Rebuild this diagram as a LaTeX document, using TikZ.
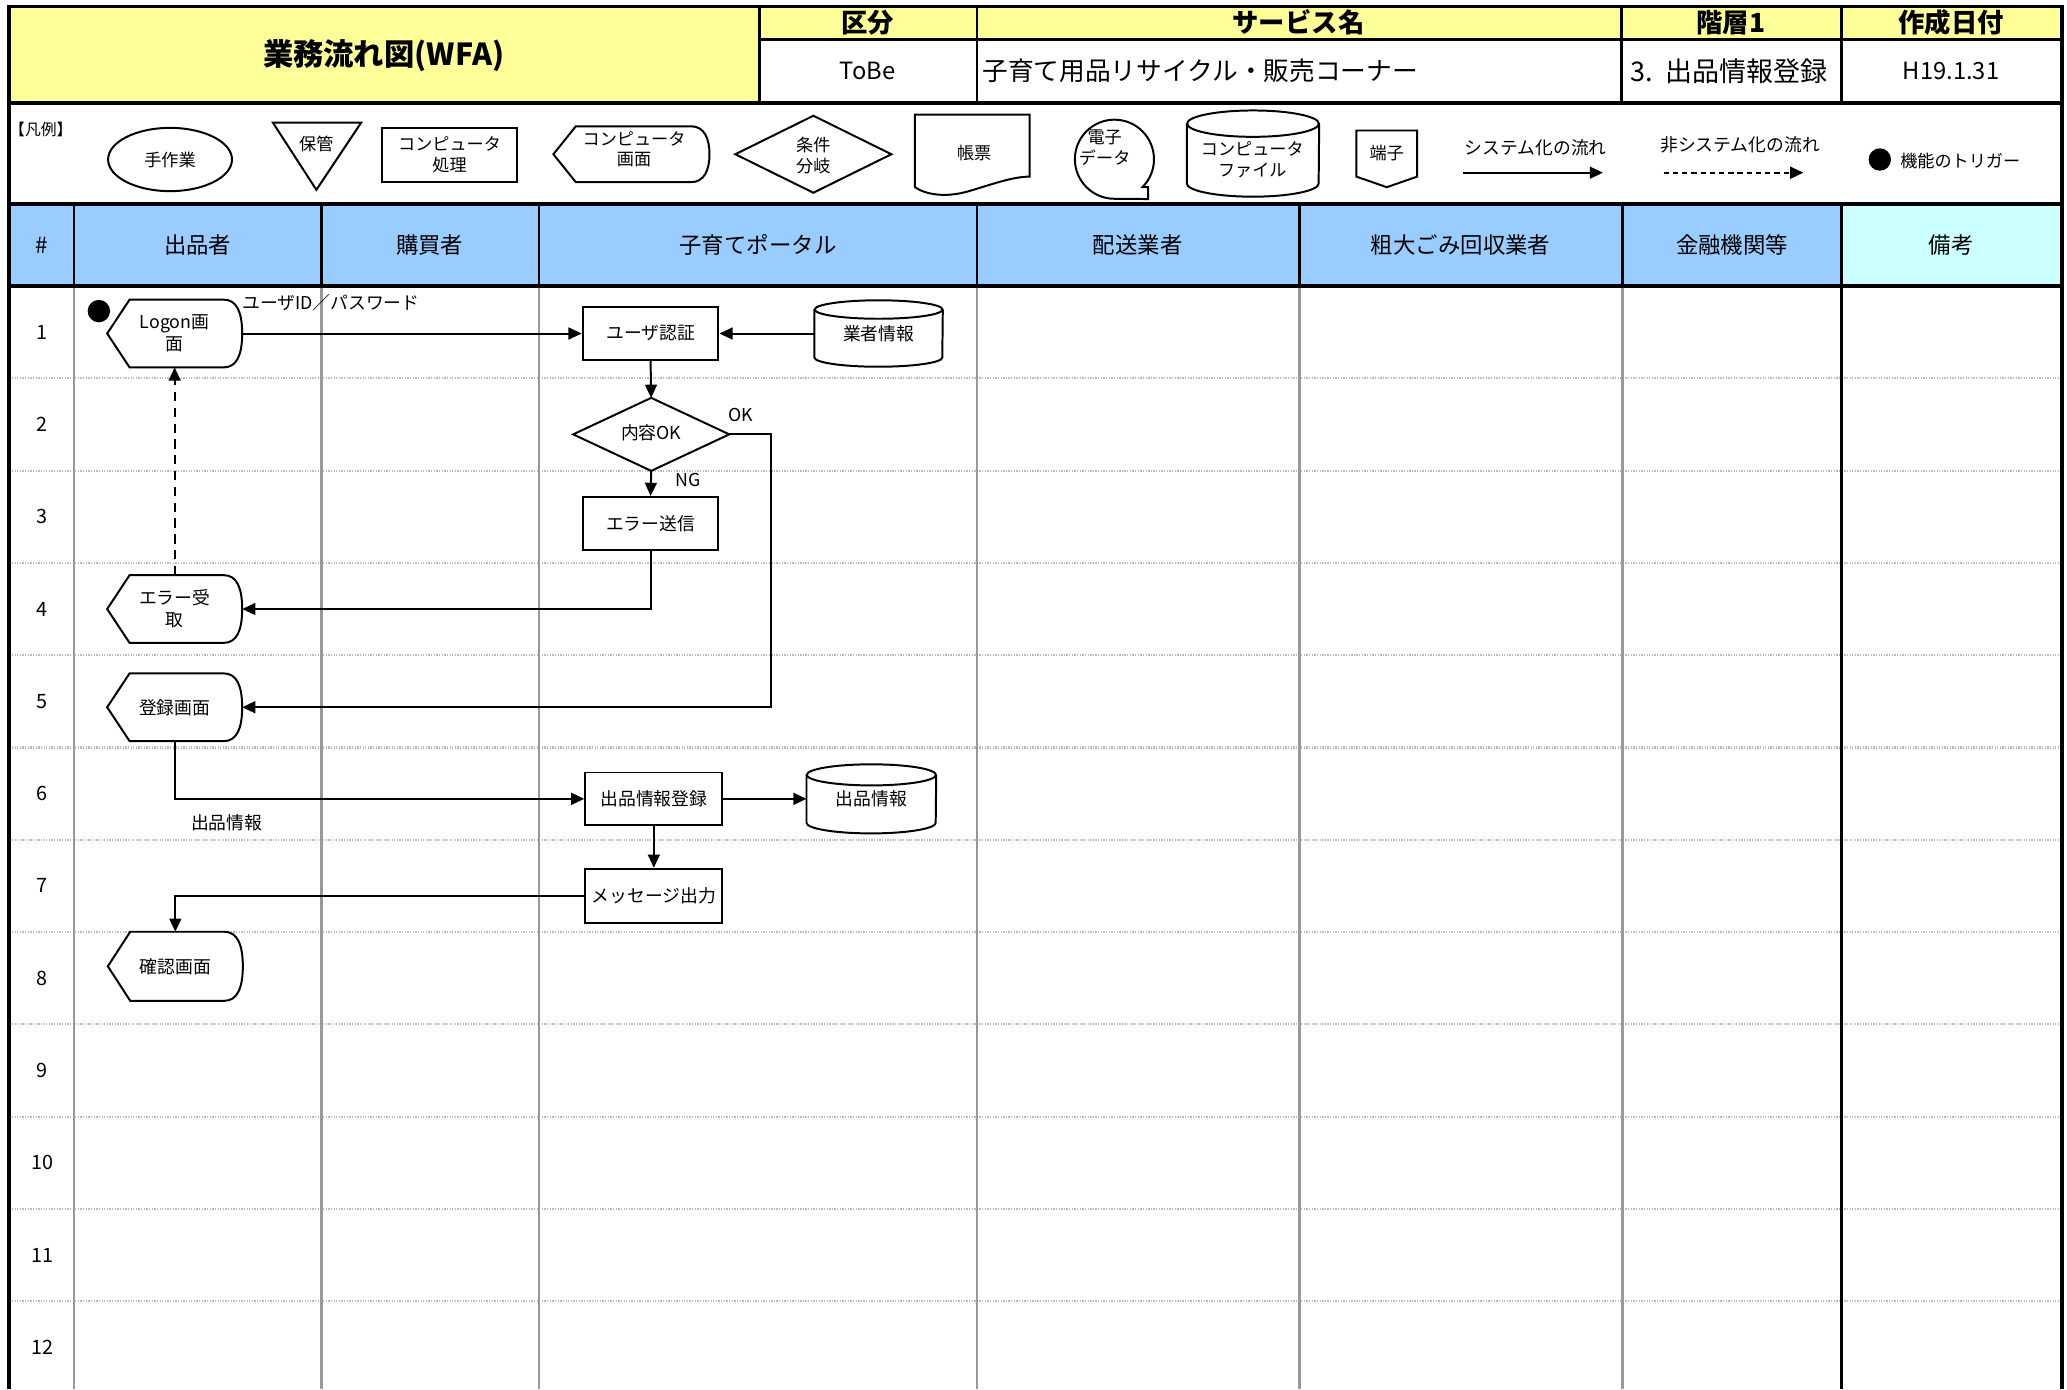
\documentclass[tikz,border=0pt]{standalone}
\usepackage{fontspec}
\setmainfont{Noto Sans CJK JP}
\usetikzlibrary{calc,arrows.meta}
\definecolor{hdryellow}{HTML}{FFFF99}
\definecolor{hdrblue}{HTML}{99CCFF}
\definecolor{hdrcyan}{HTML}{CCFFFF}
\definecolor{gridgray}{HTML}{999999}
\definecolor{dotgray}{HTML}{BBBBBB}
\newcommand{\fsz}[2]{\fontsize{#1}{#2}\selectfont}
% display (computer screen) outline around a named node
\newcommand{\dispout}[2]{%
  \draw[shapeline] (#1.west) -- ($(#1.north west)+(17,0)$) -- ($(#1.north east)+(-14,0)$)
    .. controls ($(#1.north east)+(-4,0)$) and ($(#1.east)+(0,-#2)$) .. (#1.east)
    .. controls ($(#1.east)+(0,#2)$) and ($(#1.south east)+(-4,0)$) .. ($(#1.south east)+(-14,0)$)
    -- ($(#1.south west)+(17,0)$) -- cycle;}
% cylinder outline around a named node: #2 half width, #3 cap radius
\newcommand{\cylout}[3]{%
  \draw[shapeline] ($(#1.north west)+(0,#3)$) -- ($(#1.south west)+(0,-#3)$)
    arc[start angle=180,end angle=360,x radius=#2pt,y radius=#3pt]
    -- ($(#1.north east)+(0,#3)$);
  \draw[shapeline] ($(#1.north)+(0,#3)$) ellipse[x radius=#2pt,y radius=#3pt];}
\newcommand{\diamout}[1]{%
  \draw[shapeline] (#1.north) -- (#1.east) -- (#1.south) -- (#1.west) -- cycle;}
\begin{document}
\begin{tikzpicture}[x=1pt,y=-1pt,
  shapeline/.style={line width=1.5pt,line join=miter},
  flow/.style={line width=1.5pt,-{Triangle[length=10pt,width=9pt]}},
  nsflow/.style={flow,dash pattern=on 7pt off 5pt},
  holder/.style={inner sep=0pt,align=center,font=\fsz{13.5}{16.5}},
  sbox/.style={holder,draw,line width=1.5pt},
  legtxt/.style={inner sep=0pt,align=center,font=\fsz{13}{15.5}},
  hdrlabel/.style={inner sep=0pt,font=\fsz{20}{22}\bfseries},
  hdrval/.style={inner sep=0pt,font=\fsz{19.5}{22}},
  colhdr/.style={inner sep=0pt,font=\fsz{17}{20}},
  rownum/.style={inner sep=0pt,font=\fsz{15}{18}},
  lbl/.style={inner sep=0pt,font=\fsz{13.5}{16}},
  thickline/.style={line width=2.8pt},
  medline/.style={line width=2pt},
  colsep/.style={draw=gridgray,line width=2pt},
  rowsep/.style={draw=dotgray,line width=1.6pt,dash pattern=on 1pt off 1pt},
  trigdot/.style={circle,fill=black,inner sep=0pt,minimum size=17}
]
\useasboundingbox (0,0) rectangle (1568,1054);
% ---------- fills ----------
\fill[white] (0,0) rectangle (1568,1054);
\fill[hdryellow] (7,5) rectangle (576,78);
\fill[hdryellow] (576,5) rectangle (1564,30);
\fill[hdrblue] (7,155) rectangle (1397,217);
\fill[hdrcyan] (1397,155) rectangle (1564,217);
% ---------- body grid ----------
\foreach \yy in {287,357,...,987} \draw[rowsep] (7,\yy) -- (1564,\yy);
\foreach \xx in {56,244,409,741,986,1231} \draw[colsep] (\xx,217) -- (\xx,1054);
\draw[medline] (1397,217) -- (1397,1054);
% ---------- frame and header lines ----------
\draw[thickline] (7,1054) -- (7,5) -- (1564,5) -- (1564,1054);
\draw[thickline] (7,78) -- (1564,78);
\draw[thickline] (7,155) -- (1564,155);
\draw[thickline] (7,217) -- (1564,217);
\foreach \xx in {576,741,1230,1397} \draw[medline] (\xx,5) -- (\xx,78);
\draw[medline] (576,30) -- (1564,30);
\foreach \xx in {56,244,409,741,986,1231,1397} \draw[medline] (\xx,155) -- (\xx,217);
% ---------- header texts ----------
\node[inner sep=0pt,font=\fsz{23}{26}\bfseries] (title) at (291,42) {業務流れ図(WFA)};
\node[hdrlabel] (hk) at (658,17) {区分};
\node[hdrlabel] (hs) at (985,17) {サービス名};
\node[hdrlabel] (hl) at (1313,17) {階層1};
\node[hdrlabel] (hd) at (1480,17) {作成日付};
\node[inner sep=0pt,font=\fsz{18}{20}] (vk) at (658,54) {ToBe};
\node[hdrval,anchor=west] (vs) at (745,54) {子育て用品リサイクル・販売コーナー};
\node[hdrval,anchor=west,font=\fsz{20.5}{22}] (vl) at (1237,54) {3.\hspace{9pt}出品情報登録};
\node[inner sep=0pt,font=\fsz{18}{20}] (vd) at (1480,54) {H19.1.31};
% ---------- legend ----------
\node[inner sep=0pt,font=\fsz{12}{14}] (hanrei) at (31,98) {【凡例】};
\draw[shapeline] (129,121) ellipse[x radius=47pt,y radius=24pt];
\node[legtxt] (lg1) at (129,121) {手作業};
\draw[shapeline] (207,93) -- (274,93) -- (240,144) -- cycle;
\node[legtxt] (lg2) at (240,109) {保管};
\node[legtxt,draw,line width=1.5pt,minimum width=102,minimum height=41] (lg3) at (341,117.5) {コンピュータ\\処理};
\node[holder,minimum width=118,minimum height=42] (lg4shape) at (479,117) {};
\dispout{lg4shape}{12}
\node[legtxt] (lg4) at (481,113) {コンピュータ\\画面};
\node[holder,minimum width=118,minimum height=58] (lg5shape) at (617,117) {};
\diamout{lg5shape}
\node[legtxt] (lg5) at (617,118) {条件\\分岐};
\draw[shapeline] (694,87) -- (781,87) -- (781,134)
  .. controls (768,134) and (752,140) .. (735,145)
  .. controls (718,150) and (703,148) .. (694,142) -- cycle;
\node[legtxt] (lg6) at (739,116) {帳票};
\draw[shapeline] (866.6,142) arc[start angle=-45,end angle=270,x radius=30pt,y radius=30pt]
  -- (871,151) -- (871,142) -- cycle;
\node[legtxt] (lg7) at (838,112) {電子\\データ};
\node[holder,minimum width=100,minimum height=65] (lg8shape) at (950.5,116.5) {};
\cylout{lg8shape}{50}{10}
\node[legtxt] (lg8) at (950,121) {コンピュータ\\ファイル};
\draw[shapeline] (1029,99) -- (1075,99) -- (1075,134) -- (1052,142) -- (1029,134) -- cycle;
\node[legtxt] (lg9) at (1052,116) {端子};
\node[legtxt,font=\fsz{13.5}{16}] (lg10) at (1165,112) {システム化の流れ};
\coordinate (sysA) at (1110,131);
\coordinate (sysB) at (1216,131);
\draw[flow] (sysA) -- (sysB);
\node[legtxt,font=\fsz{13.5}{16}] (lg11) at (1320,110) {非システム化の流れ};
\coordinate (nsysA) at (1262,131);
\coordinate (nsysB) at (1368,131);
\draw[nsflow,dash pattern=on 4pt off 3pt] (nsysA) -- (nsysB);
\node[trigdot] (legdot) at (1426,121) {};
\node[legtxt] (lg12) at (1487,122) {機能のトリガー};
% ---------- column headers ----------
\node[colhdr] (c0) at (32,186) {\#};
\node[colhdr] (c1) at (150,186) {出品者};
\node[colhdr] (c2) at (326,186) {購買者};
\node[colhdr] (c3) at (575,186) {子育てポータル};
\node[colhdr] (c4) at (863,186) {配送業者};
\node[colhdr] (c5) at (1108,186) {粗大ごみ回収業者};
\node[colhdr] (c6) at (1314,186) {金融機関等};
\node[colhdr] (c7) at (1480,186) {備考};
% ---------- row numbers ----------
\foreach \i in {1,...,12} \node[rownum] (row\i) at (32,182+70*\i) {\i};
% ---------- flow nodes ----------
\node[trigdot] (trig) at (75,236) {};
\node[holder,minimum width=102,minimum height=51] (logon) at (132.5,253) {Logon画\\面};
\dispout{logon}{16}
\node[sbox,minimum width=103,minimum height=40] (auth) at (493.5,253) {ユーザ認証};
\node[holder,minimum width=97,minimum height=50] (gyosha) at (666.5,253) {\raisebox{-3pt}{業者情報}};
\cylout{gyosha}{48.5}{7}
\node[holder,minimum width=118,minimum height=55] (okq) at (494,329.5) {\raisebox{3pt}{内容OK}};
\diamout{okq}
\node[sbox,minimum width=103,minimum height=40] (errsend) at (493.5,397) {エラー送信};
\node[holder,minimum width=102,minimum height=51] (errrecv) at (132.5,462) {エラー受\\取};
\dispout{errrecv}{16}
\node[holder,minimum width=102,minimum height=51] (touroku) at (132.5,536.5) {登録画面};
\dispout{touroku}{16}
\node[sbox,minimum width=104,minimum height=40] (reg) at (496,606) {出品情報登録};
\node[holder,minimum width=98,minimum height=52] (itemdb) at (661,606) {\raisebox{-3pt}{出品情報}};
\cylout{itemdb}{49}{8}
\node[sbox,minimum width=104,minimum height=41] (msg) at (496,679.5) {メッセージ出力};
\node[holder,minimum width=102,minimum height=52] (kakunin) at (133,733) {確認画面};
\dispout{kakunin}{16}
% ---------- labels ----------
\node[lbl] (lblid) at (251,230) {ユーザID／パスワード};
\node[lbl] (lblok) at (562,315) {OK};
\node[lbl] (lblng) at (522,364) {NG};
\node[lbl] (lblitem) at (172,624) {出品情報};
% ---------- connectors ----------
\coordinate (okturn) at (585,329.5);
\draw[flow] (logon.east) -- (auth.west);
\draw[flow] (gyosha.west) -- (auth.east);
\draw[flow] (auth.south) -- (okq.north);
\draw[flow] (okq.east) -- (okturn) |- (touroku.east);
\draw[flow] (okq.south) -- (errsend.north);
\draw[flow] (errsend.south) |- (errrecv.east);
\draw[nsflow] (errrecv.north) -- (logon.south);
\draw[flow] (touroku.south) |- (reg.west);
\draw[flow] (reg.east) -- (itemdb.west);
\draw[flow] (reg.south) -- (msg.north);
\draw[flow] (msg.west) -| (kakunin.north);
\end{tikzpicture}
\end{document}
